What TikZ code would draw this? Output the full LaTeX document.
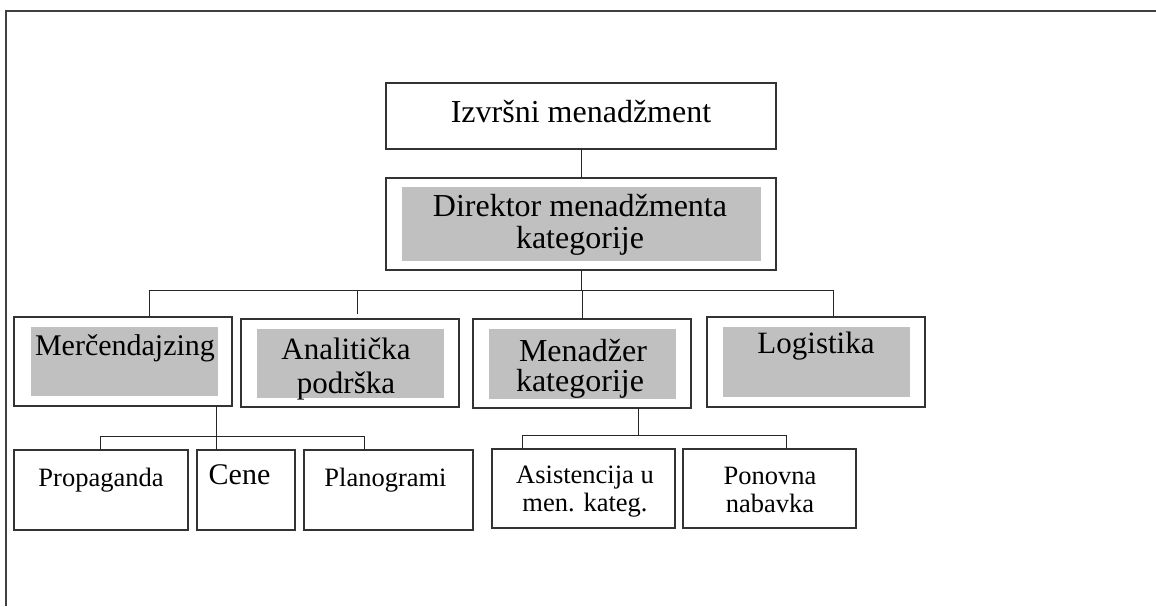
\documentclass[tikz,border=0pt]{standalone}
\usepackage{fontspec}
\setmainfont{Liberation Serif}
\definecolor{shadegray}{HTML}{C0C0C0}
\definecolor{edgegray}{HTML}{333333}
\begin{document}
\begin{tikzpicture}[x=1pt,y=-1pt,
  box/.style={draw=edgegray, line width=1.2pt, fill=white, inner sep=0pt, outer sep=0pt, anchor=north west},
  shade/.style={fill=shadegray, draw=none, inner sep=0pt, outer sep=0pt, anchor=north west},
  link/.style={draw=black!85, line width=1pt},
  frameline/.style={draw=black!75, line width=1.5pt},
  lbl/.style={anchor=base, inner sep=0pt},
  big/.style={font=\fontsize{32}{34}\selectfont},
  mid/.style={font=\fontsize{31}{33}\selectfont},
  small/.style={font=\fontsize{26.5}{28}\selectfont}]
\useasboundingbox (0,0) rectangle (1156,606);

% page frame (top and left edges)
\coordinate (fTR) at (1156,11);
\coordinate (fTL) at (6,11);
\coordinate (fBL) at (6,606);
\draw[frameline] (fTR) -- (fTL) -- (fBL);

% level 1
\node[box, minimum width=390pt, minimum height=66pt] (top) at (386,83) {};
\node[lbl, big] (topt) at (581,122.7) {Izvršni menadžment};

\node[box, minimum width=390pt, minimum height=92pt] (dir) at (386,178) {};
\node[shade, minimum width=359pt, minimum height=74pt] (dirg) at (402,187) {};
\node[lbl, big] (dirt1) at (580,216.7) {Direktor menadžmenta};
\node[lbl, big] (dirt2) at (580,248) {kategorije};

% level 2
\node[box, minimum width=218pt, minimum height=89pt] (mer) at (14,317) {};
\node[shade, minimum width=187pt, minimum height=69pt] (merg) at (31,327) {};
\node[lbl, font=\fontsize{30}{32}\selectfont] (mert) at (125,355) {Merčendajzing};

\node[box, minimum width=218pt, minimum height=88pt] (ana) at (241,319) {};
\node[shade, minimum width=187pt, minimum height=69pt] (anag) at (257,329) {};
\node[lbl, mid] (anat1) at (346,359) {Analitička};
\node[lbl, mid] (anat2) at (346,393) {podrška};

\node[box, minimum width=218pt, minimum height=89pt] (mgr) at (473,319) {};
\node[shade, minimum width=187pt, minimum height=70pt] (mgrg) at (489,329) {};
\node[lbl, big] (mgrt1) at (583,361.7) {Menadžer};
\node[lbl, big] (mgrt2) at (580,391.7) {kategorije};

\node[box, minimum width=218pt, minimum height=90pt] (log) at (707,317) {};
\node[shade, minimum width=187pt, minimum height=70pt] (logg) at (723,327) {};
\node[lbl, mid] (logt) at (816,353) {Logistika};

% level 3
\node[box, minimum width=174pt, minimum height=80pt] (prop) at (14,450) {};
\node[lbl, small] (propt) at (101,486) {Propaganda};

\node[box, minimum width=98pt, minimum height=80pt] (cene) at (197,450) {};
\node[lbl, font=\fontsize{30}{32}\selectfont] (cenet) at (239.5,484.3) {Cene};

\node[box, minimum width=169pt, minimum height=80pt] (plan) at (304,450) {};
\node[lbl, small] (plant) at (385.5,486.7) {Planogrami};

\node[box, minimum width=183pt, minimum height=79pt] (asis) at (492,449) {};
\node[lbl, small] (asist1) at (585,483) {Asistencija u};
\node[lbl, small] (asist2) at (585,511) {men. kateg.};

\node[box, minimum width=173pt, minimum height=79pt] (pon) at (683,449) {};
\node[lbl, small] (pont1) at (770,484) {Ponovna};
\node[lbl, small] (pont2) at (770,512) {nabavka};

% connectors, top part
\draw[link] (top.south) -- (dir.north);
\coordinate (busL) at (149,290);
\coordinate (busR) at (833,290);
\draw[link] (dir.south) -- (dir.south |- busL);
\draw[link] (busL) -- (busR);
\draw[link] (busL) -- (busL |- mer.north);
\coordinate (anaTap) at (357,314);
\draw[link] (anaTap |- busL) -- (anaTap);
\draw[link] (mgr.north) -- (mgr.north |- busL);
\draw[link] (busR) -- (busR |- log.north);

% connectors under Merčendajzing
\coordinate (mx) at (216,436);
\coordinate (mbL) at (100.7,436);
\coordinate (mbR) at (364.3,436);
\draw[link] (mer.south -| mx) -- (cene.north -| mx);
\draw[link] (mbL) -- (mbR);
\draw[link] (mbL) -- (mbL |- prop.north);
\draw[link] (mbR) -- (mbR |- plan.north);

% connectors under Menadžer kategorije
\coordinate (kx) at (638,435);
\coordinate (kbL) at (522.7,435);
\coordinate (kbR) at (786.7,435);
\draw[link] (mgr.south -| kx) -- (kx);
\draw[link] (kbL) -- (kbR);
\draw[link] (kbL) -- (kbL |- asis.north);
\draw[link] (kbR) -- (kbR |- pon.north);
\end{tikzpicture}
\end{document}
